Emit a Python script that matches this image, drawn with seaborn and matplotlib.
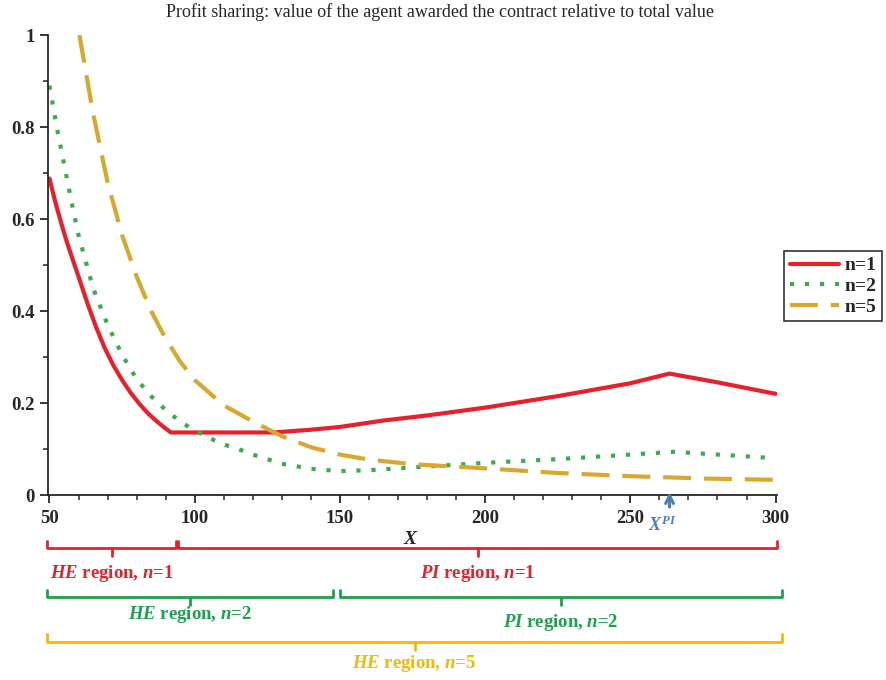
import numpy as np
import matplotlib
matplotlib.use("Agg")
import matplotlib.pyplot as plt
import matplotlib.transforms as mtransforms
import seaborn as sns

# n=1 (red, solid)
x_n1 = [50, 52, 54, 56, 58, 60, 63, 66, 69, 72, 75, 78, 81, 84, 87, 89.5, 91.8, 100, 127, 140, 150, 165,
        180, 200, 225, 250, 263.5, 280, 300]
y_n1 = [0.688, 0.637, 0.592, 0.55, 0.512, 0.475, 0.418, 0.366, 0.32, 0.282, 0.25, 0.222, 0.198, 0.177,
        0.16, 0.147, 0.136, 0.136, 0.136, 0.142, 0.148, 0.162, 0.173, 0.19, 0.215, 0.243, 0.264, 0.245, 0.22]

# n=2 (green, dotted)
x_n2 = [50, 52.5, 55, 57.5, 60, 65, 70, 75, 80, 85, 90, 95, 100, 105, 110, 115, 120, 130, 140, 150,
        160, 175, 200, 225, 250, 265, 280, 300]
y_n2 = [0.89, 0.80, 0.72, 0.64, 0.565, 0.45, 0.37, 0.305, 0.252, 0.215, 0.185, 0.16, 0.14, 0.124, 0.11,
        0.10, 0.088, 0.068, 0.057, 0.052, 0.054, 0.06, 0.07, 0.078, 0.088, 0.094, 0.088, 0.08]

# n=5 (gold, dashed)
x_n5 = [60.3, 65, 70, 75, 80, 85, 90, 95, 100, 110, 120, 130, 140, 150, 160, 175, 200, 225, 250, 275, 300]
y_n5 = [1.0, 0.83, 0.68, 0.565, 0.475, 0.40, 0.34, 0.29, 0.25, 0.195, 0.16, 0.128, 0.104, 0.088, 0.077,
        0.067, 0.058, 0.048, 0.041, 0.036, 0.033]

x_pi = 263.5

# region brackets: (start, end, label)
regions_n1 = [(49.2, 93.6, r"$HE$ region, $n$=1"), (94.3, 300.5, r"$PI$ region, $n$=1")]
regions_n2 = [(49.2, 147.6, r"$HE$ region, $n$=2"), (150.0, 302.2, r"$PI$ region, $n$=2")]
regions_n5 = [(49.2, 302.2, r"$HE$ region, $n$=5")]

red = "#e8202a"
green = "#3aad4a"
gold = "#d9a72c"
br_green = "#1aa34a"
br_gold = "#f5b800"
blue = "#4a7ebb"

sns.set_style("ticks")
plt.rcParams["font.family"] = ["Liberation Serif", "DejaVu Serif"]
plt.rcParams["mathtext.fontset"] = "custom"
plt.rcParams["mathtext.it"] = "Liberation Serif:italic:bold"
plt.rcParams["mathtext.rm"] = "Liberation Serif:bold"
plt.rcParams["mathtext.bf"] = "Liberation Serif:bold"

fig = plt.figure(figsize=(8.86, 6.80), dpi=100)
ax = fig.add_axes([0.0542, 0.272, 0.877 - 0.0542, 0.9485 - 0.272])

sns.lineplot(x=x_n1, y=y_n1, ax=ax, color=red, linewidth=3, label="n=1")
sns.lineplot(x=x_n2, y=y_n2, ax=ax, color=green, linewidth=3, label="n=2")
sns.lineplot(x=x_n5, y=y_n5, ax=ax, color=gold, linewidth=3, label="n=5")
lines = ax.get_lines()
lines[1].set_linestyle((0, (1, 2.6)))
lines[1].set_dash_capstyle("butt")
lines[2].set_linestyle((0, (6.7, 3.1)))

ax.set_xlim(49.5, 300.5)
ax.set_ylim(0, 1)
ax.set_xticks([50, 100, 150, 200, 250, 300])
ax.set_xticks(np.arange(60, 300, 10), minor=True)
ax.set_yticks([0, 0.2, 0.4, 0.6, 0.8, 1])
ax.set_yticklabels(["0", "0.2", "0.4", "0.6", "0.8", "1"])
ax.set_yticks([0.1, 0.3, 0.5, 0.7, 0.9], minor=True)
ax.tick_params(which="major", length=6, width=1.3, labelsize=13.5, direction="out")
ax.tick_params(axis="x", which="major", pad=5)
ax.tick_params(which="minor", length=3.5, width=1.1, direction="out")
for lab in ax.get_xticklabels() + ax.get_yticklabels():
    lab.set_fontweight("bold")
sns.despine(ax=ax)
ax.spines["left"].set_linewidth(1.3)
ax.spines["bottom"].set_linewidth(1.3)

fig.text(0.497, 0.982, "Profit sharing: value of the agent awarded the contract relative to total value",
         fontsize=13, ha="center", va="center")
ax.set_xlabel("X", fontsize=14, fontweight="bold", fontstyle="italic")
ax.xaxis.set_label_coords(0.497, -0.078)
ax.set_ylabel("")

leg = ax.legend(loc="center left", bbox_to_anchor=(1.01, 0.454), frameon=True, fancybox=False,
                edgecolor="black", handlelength=2.5, handletextpad=0.3, labelspacing=0.15,
                borderpad=0.3, borderaxespad=0, prop={"size": 14, "weight": "bold"})
leg.get_frame().set_linewidth(1.2)

# X^PI marker
ax.annotate("", xy=(x_pi, 0.012), xytext=(x_pi, -0.032), xycoords="data",
            arrowprops=dict(arrowstyle="->", color=blue, lw=2.2, mutation_scale=14),
            annotation_clip=False)
ax.text(x_pi - 2.5, -0.065, r"$X^{PI}$", color=blue, fontsize=13, ha="center", va="center")

# region brackets below the axis
trans = mtransforms.blended_transform_factory(ax.transData, fig.transFigure)


def bracket(x0, x1, y, color, label, label_y):
    ax.plot([x0, x0, x1, x1], [y + 0.011, y, y, y + 0.011], color=color, lw=2,
            transform=trans, clip_on=False)
    xm = (x0 + x1) / 2
    ax.plot([xm, xm], [y, y - 0.012], color=color, lw=2, transform=trans, clip_on=False)
    ax.text(xm, label_y, label, color=color, fontsize=13.5, fontweight="bold", ha="center",
            va="center", transform=trans)


for (a, b, lab) in regions_n1:
    bracket(a, b, 0.194, red, lab, 0.157)
bracket(regions_n2[0][0], regions_n2[0][1], 0.122, br_green, regions_n2[0][2], 0.097)
bracket(regions_n2[1][0], regions_n2[1][1], 0.122, br_green, regions_n2[1][2], 0.085)
bracket(regions_n5[0][0], regions_n5[0][1], 0.056, br_gold, regions_n5[0][2], 0.025)

fig.savefig("out.png", dpi=100)
